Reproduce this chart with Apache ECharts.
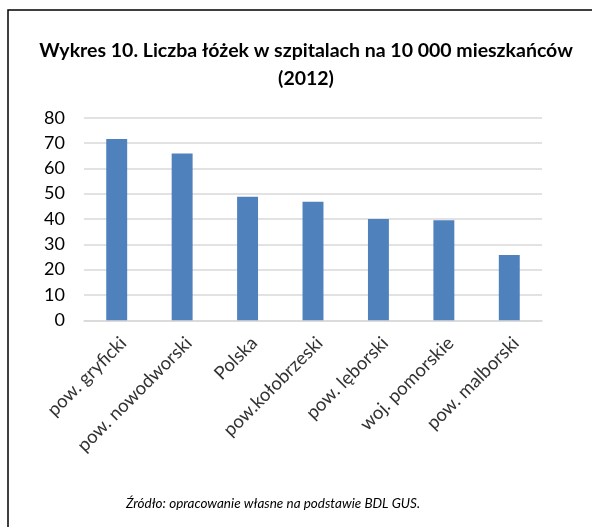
<!DOCTYPE html>
<html>
<head>
<meta charset="utf-8">
<script src="https://cdn.jsdelivr.net/npm/echarts@6/dist/echarts.min.js"></script>
<style>
html,body{margin:0;padding:0;background:#fff;}
#c{width:592px;height:527px;}
</style>
</head>
<body>
<div id="c"></div>
<script>
const categories = ['pow. gryficki','pow. nowodworski','Polska','pow.kołobrzeski','pow. lęborski','woj. pomorskie','pow. malborski'];
const values = [71.6, 65.9, 48.8, 46.8, 40.0, 39.5, 25.8];
const yTicks = [0, 10, 20, 30, 40, 50, 60, 70, 80];
const titleLines = ['Wykres 10. Liczba łóżek w szpitalach na 10 000 mieszkańców', '(2012)'];
const sourceText = 'Źródło: opracowanie własne na podstawie BDL GUS.';

const FONT = 'Lato, "Open Sans", "DejaVu Sans", sans-serif';
const chart = echarts.init(document.getElementById('c'), null, {renderer: 'canvas'});
chart.setOption({
  backgroundColor: '#fff',
  animation: false,
  graphic: [
    {type: 'rect', shape: {x: 8, y: 10, width: 700, height: 700}, style: {fill: 'none', stroke: '#000', lineWidth: 1.5}, silent: true},
    {type: 'text', x: 306, y: 51, style: {text: titleLines[0], font: 'bold 19.5px ' + FONT, fill: '#000', align: 'center', verticalAlign: 'middle'}},
    {type: 'text', x: 306, y: 79, style: {text: titleLines[1], font: 'bold 19.5px ' + FONT, fill: '#000', align: 'center', verticalAlign: 'middle'}},
    {type: 'text', x: 273, y: 504, style: {text: sourceText, font: 'italic 13.5px ' + FONT, fill: '#000', align: 'center', verticalAlign: 'middle'}}
  ],
  grid: {left: 84, right: 50, top: 117.7, bottom: 206.7, containLabel: false},
  xAxis: {
    type: 'category',
    data: categories,
    axisLine: {show: true, lineStyle: {color: '#d9d9d9', width: 1.5}},
    axisTick: {show: false},
    axisLabel: {rotate: 45, fontFamily: FONT, fontSize: 18.5, color: '#333', margin: 13, interval: 0, verticalAlign: 'top'}
  },
  yAxis: {
    type: 'value',
    min: yTicks[0],
    max: yTicks[yTicks.length - 1],
    interval: 10,
    axisLine: {show: false},
    axisTick: {show: false},
    axisLabel: {fontFamily: FONT, fontSize: 18, color: '#000', margin: 19},
    splitLine: {lineStyle: {color: '#d9d9d9', width: 1.5}}
  },
  series: [{
    type: 'bar',
    data: values,
    barWidth: '32%',
    itemStyle: {color: '#4f81bd'}
  }]
});
</script>
</body>
</html>
